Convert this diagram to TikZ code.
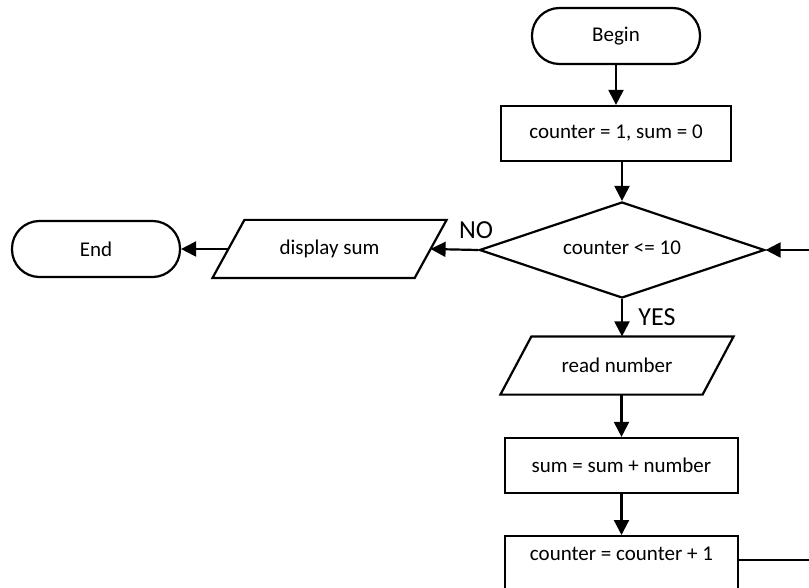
\documentclass[tikz,border=0pt]{standalone}
\usepackage{fontspec}
\setmainfont{Carlito}
\usetikzlibrary{arrows.meta,shapes.geometric}
\tikzset{
  base/.style={line width=2.2pt, font=\fontsize{21}{24}\selectfont, inner sep=0pt},
  term/.style={base, draw, rounded corners=27.5pt, minimum width=168pt, minimum height=56pt},
  procbox/.style={base, draw, minimum height=55pt},
  iobox/.style={base, minimum width=200pt, minimum height=56pt},
  decbox/.style={base, draw, diamond, aspect=2.97, minimum width=285pt, minimum height=96pt},
  flow/.style={line width=2.2pt, -{Triangle[length=15pt,width=15pt]}},
  lbl/.style={font=\fontsize{26}{30}\selectfont, inner sep=0pt}
}
\begin{document}
\begin{tikzpicture}[x=1pt,y=-1pt]
\useasboundingbox (0,0) rectangle (809,588);
\node[term] (begin) at (616,36) {Begin};
\node[procbox, minimum width=230pt] (init) at (616,133.5) {counter = 1, sum = 0};
\node[decbox] (cond) at (622,250) {\raisebox{4pt}{counter <= 10}};
\node[iobox] (read) at (617,365.5) {read number};
\draw[line width=2.2pt] ([xshift=15.5pt]read.north west) -- ([xshift=15.5pt]read.north east)
  -- ([xshift=-15.5pt]read.south east) -- ([xshift=-15.5pt]read.south west) -- cycle;
\node[procbox, minimum width=233pt] (sum) at (621.5,465.5) {sum = sum + number};
\node[base, draw, minimum width=233pt, text height=24pt, text depth=31pt, anchor=north] (incr) at (621.5,535) {counter = counter + 1};
\node[iobox] (disp) at (329.5,249) {display sum};
\draw[line width=2.2pt] ([xshift=16pt]disp.north west) -- ([xshift=16pt]disp.north east)
  -- ([xshift=-16pt]disp.south east) -- ([xshift=-16pt]disp.south west) -- cycle;
\node[term] (end) at (96,249) {End};
\node[lbl] (no) at (476,230) {NO};
\node[lbl] (yes) at (657,317) {YES};
\coordinate (loopR) at (813,0);

\draw[flow] (begin.south) -- (init.north);
\draw[flow] (init.south -| cond.north) -- (cond.north);
\draw[flow] (cond.south) -- (cond.south |- read.north);
\draw[flow] (sum.north |- read.south) -- (sum.north);
\draw[flow] (sum.south) -- (incr.north);
\draw[flow] (cond.west) -- (disp.east);
\draw[flow] (disp.west) -- (end.east);
\draw[flow] (incr.base east) -- (incr.base east -| loopR) |- (cond.east);
\end{tikzpicture}
\end{document}
